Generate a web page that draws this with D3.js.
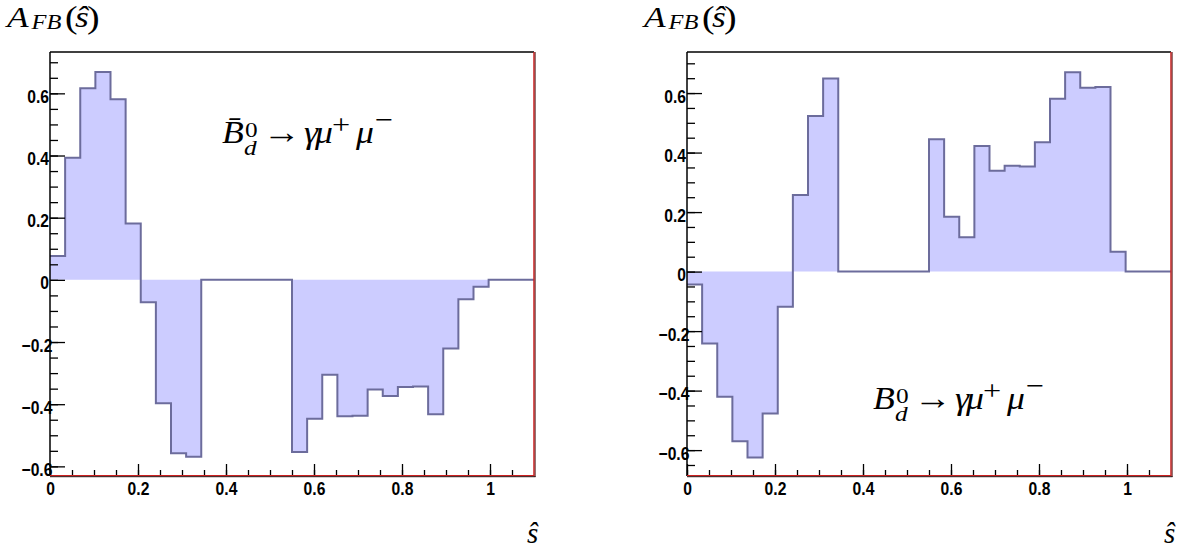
<!DOCTYPE html>
<html>
<head>
<meta charset="utf-8">
<script src="https://cdn.jsdelivr.net/npm/d3@7"></script>
<style>
  body { margin: 0; background: #fff; }
  svg { display: block; }
</style>
</head>
<body>
<svg id="chart" width="1194" height="554"></svg>
<script>
// binning of both histograms: 32 bins over [0, 1.1]
const nBins = 32;
const sMax = 1.1;

// A_FB per bin
const afbBbar = [0.077, 0.393, 0.616, 0.669, 0.581, 0.181, -0.072, -0.397, -0.558, -0.569,
  0, 0, 0, 0, 0, 0,
  -0.554, -0.447, -0.305, -0.439, -0.437, -0.353, -0.374, -0.345, -0.343, -0.432,
  -0.221, -0.062, -0.022, 0, 0, 0];
const afbB = [-0.043, -0.242, -0.421, -0.570, -0.625, -0.477, -0.118, 0.257, 0.523, 0.649,
  0, 0, 0, 0, 0, 0,
  0.445, 0.184, 0.115, 0.422, 0.339, 0.356, 0.353, 0.435, 0.581, 0.670,
  0.618, 0.620, 0.067, 0, 0, 0];

const xTicks = [0, 0.2, 0.4, 0.6, 0.8, 1];
const yTicks = [-0.6, -0.4, -0.2, 0, 0.2, 0.4, 0.6];

const SANS = "'Liberation Sans', Arial, Helvetica, sans-serif";
const SERIF = "'Liberation Serif', 'Times New Roman', serif";

const svg = d3.select("#chart");

const panels = [
  { values: afbBbar, left: 50, yDomain: [-0.631, 0.733], bar: true, labelX: 222, labelY: 143 },
  { values: afbB, left: 687, yDomain: [-0.687, 0.738], bar: false, labelX: 873, labelY: 409 }
];

const plotW = 484, plotTop = 52, plotBottom = 476;

function styleTicks(a) {
  a.select(".domain").remove();
  a.selectAll(".tick line").attr("stroke", "#000").attr("stroke-width", 1.3);
  a.selectAll(".tick text")
    .attr("font-family", SANS).attr("font-weight", "bold").attr("font-size", 18)
    .attr("fill", "#000");
}

// italic serif text, widened a little to match the ROOT latex font
function latex(x0, y0, size, sx) {
  return svg.append("text")
    .attr("transform", `translate(${x0},${y0}) scale(${sx},1)`)
    .attr("font-family", SERIF).attr("font-style", "italic").attr("font-size", size);
}

panels.forEach(function (p) {
  const x = d3.scaleLinear().domain([0, sMax]).range([p.left, p.left + plotW]);
  const y = d3.scaleLinear().domain(p.yDomain).range([plotBottom, plotTop]);
  const g = svg.append("g");

  const bins = p.values.map(function (v, i) { return { lo: i * sMax / nBins, v: v }; });
  bins.push({ lo: sMax, v: p.values[p.values.length - 1] });

  // filled histogram
  g.append("path")
    .datum(bins)
    .attr("fill", "#ccccff")
    .attr("d", d3.area().curve(d3.curveStepAfter)
      .x(d => x(d.lo)).y0(y(0)).y1(d => y(d.v)));
  g.append("path")
    .datum(bins)
    .attr("fill", "none")
    .attr("stroke", "#6c6c9c")
    .attr("stroke-width", 2)
    .attr("d", d3.line().curve(d3.curveStepAfter)
      .x(d => x(d.lo)).y(d => y(d.v)));

  const fmt = d => d === 0 ? "0" : (d === 1 ? "1" : d3.format(".1f")(d));

  // y axis, ticks pointing inward
  const yMinor = d3.range(-0.65, 0.75, 0.05).filter(t => t >= p.yDomain[0] && t <= p.yDomain[1]);
  g.append("g").attr("transform", `translate(${p.left},0)`)
    .call(d3.axisLeft(y).tickValues(yMinor).tickSize(-8).tickFormat(""))
    .call(styleTicks);
  g.append("g").attr("transform", `translate(${p.left},0)`)
    .call(d3.axisLeft(y).tickValues(yTicks).tickSize(-15).tickPadding(0).tickFormat(fmt))
    .call(styleTicks)
    .call(a => a.selectAll(".tick text")
      .attr("x", d => d < 0 ? 2.8 : -1.2)
      .attr("dy", "0.5em")
      .attr("transform", "scale(0.87,1)"));

  // x axis, ticks pointing inward
  g.append("g").attr("transform", `translate(0,${plotBottom})`)
    .call(d3.axisBottom(x).tickValues(d3.range(0, 1.1, 0.05)).tickSize(-6).tickFormat(""))
    .call(styleTicks);
  const xa = g.append("g").attr("transform", `translate(0,${plotBottom})`)
    .call(d3.axisBottom(x).tickValues(xTicks).tickSize(-12).tickPadding(6).tickFormat(fmt))
    .call(styleTicks);
  xa.selectAll(".tick text").attr("transform", "scale(0.87,1)");

  // frame
  const R = p.left + plotW;
  g.append("line").attr("x1", p.left).attr("x2", R).attr("y1", plotTop).attr("y2", plotTop)
    .attr("stroke", "#000").attr("stroke-width", 1.5);
  g.append("line").attr("x1", p.left).attr("x2", p.left).attr("y1", plotTop).attr("y2", plotBottom)
    .attr("stroke", "#000").attr("stroke-width", 1.5);
  g.append("line").attr("x1", R).attr("x2", R).attr("y1", plotTop).attr("y2", plotBottom)
    .attr("stroke", "#cc2020").attr("stroke-width", 1.5);
  g.append("line").attr("x1", R + 1.2).attr("x2", R + 1.2).attr("y1", plotTop).attr("y2", plotBottom + 1)
    .attr("stroke", "#400000").attr("stroke-width", 0.8);
  g.append("line").attr("x1", p.left).attr("x2", R).attr("y1", plotBottom - 0.5).attr("y2", plotBottom - 0.5)
    .attr("stroke", "#cc2020").attr("stroke-width", 1.2);
  g.append("line").attr("x1", p.left).attr("x2", R + 1.5).attr("y1", plotBottom + 0.7).attr("y2", plotBottom + 0.7)
    .attr("stroke", "#200000").attr("stroke-width", 1);

  // y title  A_FB(ŝ)
  const ts = 1.22;
  const t = latex(p.left - 43, 26.5, 29, ts);
  t.append("tspan").attr("x", 0).attr("y", 0).text("A");
  t.append("tspan").attr("x", 24.5 / ts).attr("y", 2.5).attr("font-size", 20).text("FB");
  t.append("tspan").attr("x", 58 / ts).attr("y", 1.5).attr("font-style", "normal").attr("font-size", 31).text("(");
  t.append("tspan").attr("x", 68 / ts).attr("y", 0).text("\u015D");
  t.append("tspan").attr("x", 80 / ts).attr("y", 1.5).attr("font-style", "normal").attr("font-size", 31).text(")");

  // x title ŝ
  svg.append("text").attr("x", R - 7).attr("y", 543)
    .attr("font-family", SERIF).attr("font-style", "italic").attr("font-size", 29).text("\u015D");

  // process label
  const ls = 1.15;
  const l = latex(p.labelX, p.labelY, 31, ls);
  l.append("tspan").attr("x", 0).attr("y", 0).text(p.bar ? "B\u0304" : "B");
  l.append("tspan").attr("x", 23 / ls).attr("y", -6).attr("font-style", "normal").attr("font-size", 22).text("0");
  l.append("tspan").attr("x", 22 / ls).attr("y", 12).attr("font-size", 22).text("d");
  l.append("tspan").attr("x", 41 / ls).attr("y", 0).attr("font-style", "normal").attr("font-size", 33).text("\u2192");
  l.append("tspan").attr("x", 82 / ls).attr("y", 0).text("\u03B3");
  l.append("tspan").attr("x", 93 / ls).attr("y", 0).text("\u03BC");
  l.append("tspan").attr("x", 110 / ls).attr("y", -9).attr("font-style", "normal").attr("font-size", 28).text("+");
  l.append("tspan").attr("x", 134 / ls).attr("y", 0).text("\u03BC");
  l.append("tspan").attr("x", 153 / ls).attr("y", -14).attr("font-style", "normal").attr("font-size", 28).text("\u2212");
});
</script>
</body>
</html>
